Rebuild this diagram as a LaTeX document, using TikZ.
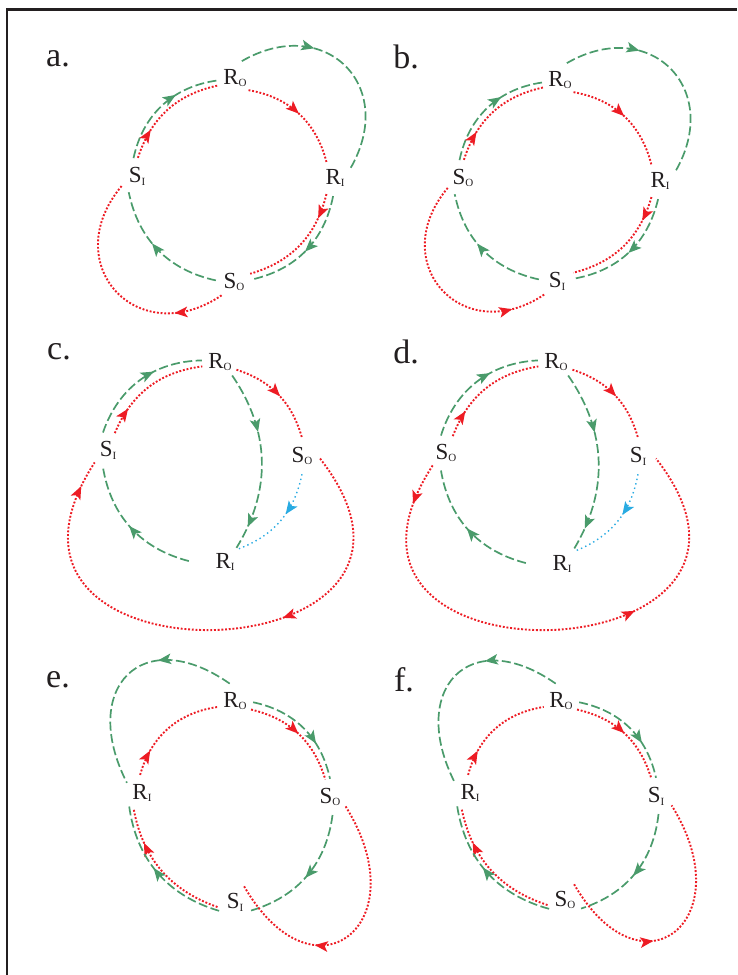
\documentclass[tikz,border=0pt]{standalone}
\usepackage{fontspec}
\setmainfont{Liberation Serif}
\usetikzlibrary{arrows.meta,decorations.markings}
\definecolor{grn}{RGB}{74,155,107}
\definecolor{rd}{RGB}{237,28,36}
\definecolor{blu}{RGB}{41,171,226}
\definecolor{ink}{RGB}{35,31,32}
\newcommand{\lbl}[2]{#1\raisebox{-2.8pt}{\fontsize{11}{11}\selectfont #2}}

\begin{document}
\begin{tikzpicture}[x=1pt,y=1pt,
  lab/.style={circle,inner sep=0pt,minimum size=36pt,text=ink,font=\fontsize{23}{23}\selectfont},
  tag/.style={inner sep=0pt,text=ink,font=\fontsize{34}{34}\selectfont},
  gline/.style={grn,line width=1.7pt,dash pattern=on 9pt off 3.5pt},
  rline/.style={rd,line width=1.9pt,dash pattern=on 1.9pt off 1.8pt},
  bline/.style={blu,line width=1.4pt,dash pattern=on 1.4pt off 3.2pt},
  hd/.tip={Stealth[length=13pt,width=10.5pt,inset=3pt]},
  arr/.style={postaction={decorate,decoration={markings,
    mark=at position #1 with {\arrow{hd}}}}},
  arrs/.style 2 args={postaction={decorate,decoration={markings,
    mark=at position #1 with {\arrow{hd}},mark=at position #2 with {\arrow{hd}}}}}
]
  \useasboundingbox (0,0) rectangle (737,-975);
  \draw[ink,line width=2.2pt] (7,-975) -- (7,-9.5) -- (737,-9.5);

  % a.
  \node[tag] (ta) at (58,-59) {a.};
  \node[lab] (aRO) at (235,-78) {\lbl{R}{O}};
  \node[lab] (aRI) at (335,-178) {\lbl{R}{I}};
  \node[lab] (aSI) at (137,-176) {\lbl{S}{I}};
  \node[lab] (aSO) at (234,-282) {\lbl{S}{O}};
  \draw[gline,arr=0.64] (aSI.101) to[bend left=35] (aRO.188);
  \draw[rline,arr=0.27] (aSI.87) to[bend left=30] (aRO.204);
  \draw[rline,arr=0.5] (aRO.-42) to[bend left=33] (aRI.118);
  \draw[gline,arr=0.34] (aRO.68) to[out=30,in=60,looseness=1.6] (aRI.32);
  \draw[rline,arr=0.22] (aRI.242) to[bend left=30] (aSO.27);
  \draw[gline,arr=0.51] (aRI.264) to[bend left=33] (aSO.8);
  \draw[gline,arr=0.57] (aSO.175) to[bend left=33] (aSI.243);
  \draw[rline,arr=0.22] (aSO.227) to[out=214,in=230,looseness=1.75] (aSI.213);

  % b.
  \node[tag] (tb) at (406,-57) {b.};
  \node[lab] (bRO) at (560,-80) {\lbl{R}{O}};
  \node[lab] (bRI) at (660,-181) {\lbl{R}{I}};
  \node[lab] (bSO) at (463,-178) {\lbl{S}{O}};
  \node[lab] (bSI) at (557,-281) {\lbl{S}{I}};
  \draw[gline,arr=0.64] (bSO.101) to[bend left=35] (bRO.188);
  \draw[rline,arr=0.27] (bSO.87) to[bend left=30] (bRO.204);
  \draw[rline,arr=0.5] (bRO.-42) to[bend left=33] (bRI.118);
  \draw[gline,arr=0.34] (bRO.68) to[out=30,in=60,looseness=1.6] (bRI.32);
  \draw[rline,arr=0.22] (bRI.242) to[bend left=30] (bSI.27);
  \draw[gline,arr=0.51] (bRI.264) to[bend left=33] (bSI.8);
  \draw[gline,arr=0.57] (bSI.175) to[bend left=33] (bSO.243);
  \draw[rline,arr=0.84] (bSO.213) to[out=230,in=214,looseness=1.75] (bSI.227);

  % c.
  \node[tag] (tc) at (59,-352) {c.};
  \node[lab] (cRO) at (220,-362) {\lbl{R}{O}};
  \node[lab] (cSI) at (108,-450) {\lbl{S}{I}};
  \node[lab] (cSO) at (302,-456) {\lbl{S}{O}};
  \node[lab] (cRI) at (225,-562) {\lbl{R}{I}};
  \draw[gline,arr=0.62] (cSI.106) to[bend left=35] (cRO.175);
  \draw[rline,arr=0.24] (cSI.68) to[bend left=30] (cRO.194);
  \draw[rline,arr=0.52] (cRO.-25) to[bend left=28] (cSO.90);
  \draw[gline,arrs={0.34}{0.87}] (cRO.-48) to[bend left=33] (cRI.51);
  \draw[bline,arr=0.42] (cSO.270) to[bend left=29] (cRI.45);
  \draw[gline,arr=0.52] ([xshift=-18pt]cRI.177) to[bend left=33] (cSI.254);
  \draw[rline,arrs={0.37}{0.95}] (cSO.-8) to[out=-52,in=237,looseness=3.15] (cSI.223);

  % d.
  \node[tag] (td) at (406,-352) {d.};
  \node[lab] (dRO) at (556,-362) {\lbl{R}{O}};
  \node[lab] (dSO) at (446,-453) {\lbl{S}{O}};
  \node[lab] (dSI) at (638,-456) {\lbl{S}{I}};
  \node[lab] (dRI) at (562,-564) {\lbl{R}{I}};
  \draw[gline,arr=0.62] (dSO.106) to[bend left=35] (dRO.175);
  \draw[rline,arr=0.24] (dSO.68) to[bend left=30] (dRO.194);
  \draw[rline,arr=0.52] (dRO.-25) to[bend left=28] (dSI.90);
  \draw[gline,arrs={0.34}{0.87}] (dRO.-48) to[bend left=33] (dRI.51);
  \draw[bline,arr=0.42] (dSI.270) to[bend left=29] (dRI.45);
  \draw[gline,arr=0.52] ([xshift=-18pt]dRI.177) to[bend left=33] (dSO.254);
  \draw[rline,arrs={0.08}{0.66}] (dSO.223) to[out=237,in=-52,looseness=3.15] (dSI.-8);

  % e.
  \node[tag] (te) at (58,-680) {e.};
  \node[lab] (eRO) at (235,-701) {\lbl{R}{O}};
  \node[lab] (eRI) at (142,-793) {\lbl{R}{I}};
  \node[lab] (eSO) at (330,-797) {\lbl{S}{O}};
  \node[lab] (eSI) at (235,-902) {\lbl{S}{I}};
  \draw[rline,arr=0.24] (eRI.96) to[bend left=33] (eRO.199);
  \draw[gline,arr=0.34] (eRO.107) to[out=145,in=117,looseness=1.9] (eRI.146);
  \draw[rline,arr=0.5] (eRO.-28) to[bend left=30] (eSO.105);
  \draw[gline,arr=0.67] (eRO.-4) to[bend left=33] (eSO.90);
  \draw[gline,arr=0.52] (eSO.278) to[bend left=33] (eSI.-28);
  \draw[rline,arr=0.74] (eSI.196) to[bend left=30] (eRI.243);
  \draw[gline,arr=0.54] (eSI.209) to[bend left=33] (eRI.225);
  \draw[rline,arr=0.65] (eSO.-31) to[out=-58,in=-60,looseness=2.75] (eSI.60);

  % f.
  \node[tag] (tf) at (404,-680) {f.};
  \node[lab] (fRO) at (561,-701) {\lbl{R}{O}};
  \node[lab] (fRI) at (470,-793) {\lbl{R}{I}};
  \node[lab] (fSI) at (656,-796) {\lbl{S}{I}};
  \node[lab] (fSO) at (565,-900) {\lbl{S}{O}};
  \draw[rline,arr=0.24] (fRI.96) to[bend left=33] (fRO.199);
  \draw[gline,arr=0.34] (fRO.107) to[out=145,in=117,looseness=1.9] (fRI.146);
  \draw[rline,arr=0.5] (fRO.-28) to[bend left=30] (fSI.105);
  \draw[gline,arr=0.67] (fRO.-4) to[bend left=33] (fSI.90);
  \draw[gline,arr=0.52] (fSI.278) to[bend left=33] (fSO.-28);
  \draw[rline,arr=0.74] (fSO.196) to[bend left=30] (fRI.243);
  \draw[gline,arr=0.54] (fSO.209) to[bend left=33] (fRI.225);
  \draw[rline,arr=0.39] (fSO.60) to[out=-60,in=-58,looseness=2.75] (fSI.-31);
\end{tikzpicture}
\end{document}
